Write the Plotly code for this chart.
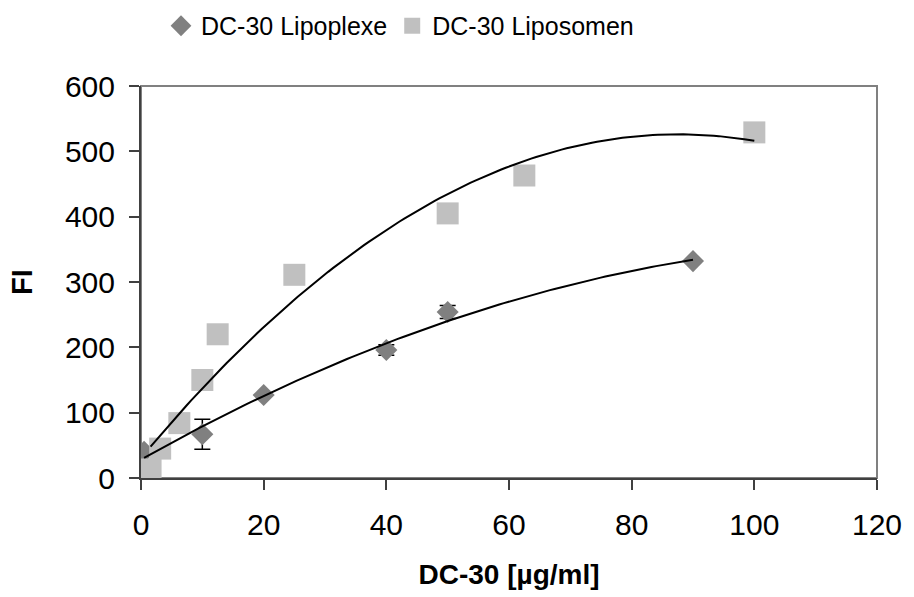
import numpy as np
import plotly.graph_objects as go

# ---- data ----
lipoplexe_x = [0.5, 10, 20, 40, 50, 90]
lipoplexe_y = [40, 67, 127, 196, 254, 332]
lipoplexe_err = [0, 23, 0, 8, 10, 0]

liposomen_x = [1.5625, 3.125, 6.25, 10, 12.5, 25, 50, 62.5, 100]
liposomen_y = [13, 45, 84, 150, 220, 311, 405, 463, 529]

x_ticks = [0, 20, 40, 60, 80, 100, 120]
y_ticks = [0, 100, 200, 300, 400, 500, 600]

FONT = "Liberation Sans, Arial, sans-serif"


def trend(xs, ys, order=2, n=120):
    c = np.polyfit(xs, ys, order)
    xx = np.linspace(min(xs), max(xs), n)
    return xx, np.polyval(c, xx)


fig = go.Figure()

fig.add_trace(go.Scatter(
    x=lipoplexe_x, y=lipoplexe_y, mode="markers", name="DC-30 Lipoplexe",
    marker=dict(symbol="diamond", size=17, color="#808080"),
    error_y=dict(type="data", array=lipoplexe_err, visible=True,
                 color="black", thickness=1.5, width=8),
))
fig.add_trace(go.Scatter(
    x=liposomen_x, y=liposomen_y, mode="markers", name="DC-30 Liposomen",
    marker=dict(symbol="square", size=22, color="#c0c0c0"),
))

tx, ty = trend(lipoplexe_x, lipoplexe_y)
fig.add_trace(go.Scatter(x=tx, y=ty, mode="lines", showlegend=False,
                         line=dict(color="black", width=2), hoverinfo="skip"))
tx, ty = trend(liposomen_x, liposomen_y)
fig.add_trace(go.Scatter(x=tx, y=ty, mode="lines", showlegend=False,
                         line=dict(color="black", width=2), hoverinfo="skip"))

fig.add_shape(type="rect", xref="x domain", yref="y domain", x0=0, x1=1, y0=0, y1=1,
              line=dict(color="#808080", width=2), layer="below")

axis_common = dict(
    showgrid=False, zeroline=False, showline=True, linecolor="#404040", linewidth=2,
    ticks="outside", ticklen=10, tickcolor="#404040", tickwidth=1.5,
    tickfont=dict(family=FONT, size=30, color="black"),
)

fig.update_layout(
    width=914, height=597,
    margin=dict(l=141, r=30, t=86, b=116),
    paper_bgcolor="white", plot_bgcolor="white",
    xaxis=dict(range=[0, 120], tickvals=x_ticks, ticklabelstandoff=9,
               title=dict(text="<b>DC-30 [µg/ml]</b>", font=dict(family=FONT, size=28, color="black"),
                          standoff=24),
               **axis_common),
    yaxis=dict(range=[0, 600], tickvals=y_ticks, ticklabelstandoff=8,
               title=dict(text="<b>FI</b>", font=dict(family=FONT, size=29, color="black"),
                          standoff=24),
               **axis_common),
    legend=dict(orientation="h", xref="container", yref="container",
                x=161 / 914, xanchor="left", y=0.995, yanchor="top",
                font=dict(family=FONT, size=25, color="black"),
                itemwidth=30, bgcolor="rgba(0,0,0,0)"),
    showlegend=True,
)

fig.write_html("out.html")
